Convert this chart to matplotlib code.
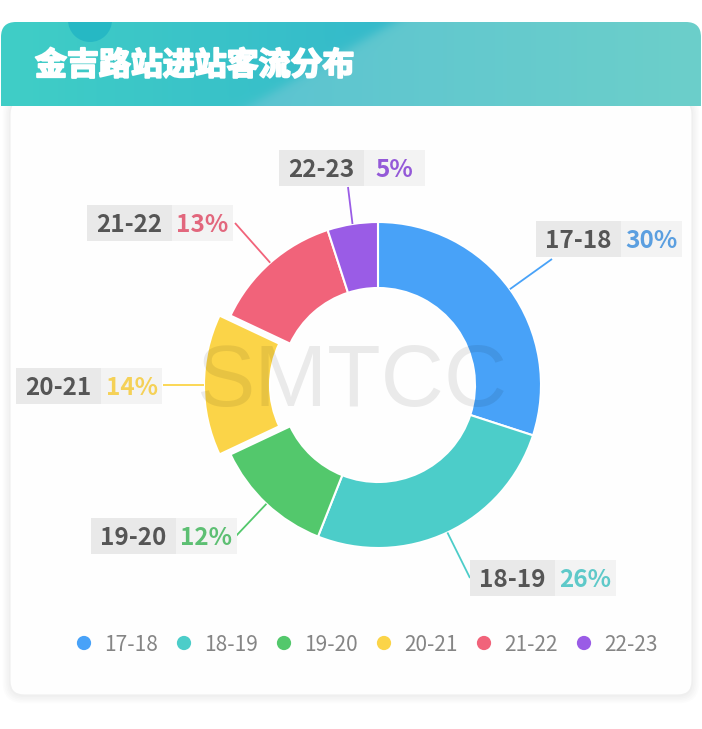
import numpy as np
import matplotlib
matplotlib.use("Agg")
import matplotlib.pyplot as plt
import matplotlib.patheffects as pe
from matplotlib.patches import FancyBboxPatch, Rectangle, Circle
from matplotlib.colors import to_rgb

plt.rcParams["font.family"] = ["Noto Sans CJK SC", "DejaVu Sans"]

TITLE = "金吉路站进站客流分布"
PERIODS = ["17-18", "18-19", "19-20", "20-21", "21-22", "22-23"]
SHARES = [30, 26, 12, 14, 13, 5]
COLORS = ["#48a2f8", "#4ccdc9", "#53c86c", "#fbd448", "#f1637a", "#9a5ce6"]
PCT_COLORS = ["#5b9fe0", "#5ec9c9", "#5dbf73", "#f5d157", "#e2677d", "#9459d8"]
EXPLODED = "20-21"

W, H = 702, 729
CX, CY = 378, 385          # donut centre, image pixels from top-left
R_OUT, R_IN = 163, 97

# label box top-left corners and leader line ends (image pixels)
BOX_POS = [(536, 221), (470, 560), (91, 518), (16, 368), (87, 205), (279, 150)]
LEADER_END = [(552, 259), (470, 578), (236, 536), (163, 385), (235, 223), (348, 187)]


def fy(y):
    return H - y


fig = plt.figure(figsize=(W / 100, H / 100), dpi=100, facecolor="white")
ax = fig.add_axes([0, 0, 1, 1])

# card shadow + body
for i in range(5):
    pad = 1 + i * 1.6
    ax.add_patch(FancyBboxPatch((10 - pad, fy(695) - pad - 1), 682 + 2 * pad, 595 + 2 * pad,
                                boxstyle="round,pad=0,rounding_size=%d" % (14 + pad),
                                fc="black", ec="none", alpha=0.01, zorder=0.1))
ax.add_patch(FancyBboxPatch((10, fy(695)), 682, 595, boxstyle="round,pad=0,rounding_size=14",
                            fc="#fefefe", ec="#efefef", lw=0.8, zorder=0.3))

# header band with gradient
hh = 84
xs = np.linspace(0, W, W)[None, :]
ys = np.linspace(22, 106, hh)[:, None]
left = np.array(to_rgb("#40cec6"))
mid = np.array(to_rgb("#33b8cb"))
light_a = np.array(to_rgb("#5cc4d1"))
light_b = np.array(to_rgb("#6ccfca"))
t = np.clip(xs / 420, 0, 1)[..., None]
base = left * (1 - t) + mid * t
edge = 394 - (ys - 22) * (144 / 84)
s = (1 / (1 + np.exp(-(xs - edge) / 6)))[..., None]
u = np.clip((xs - 250) / 450, 0, 1)[..., None]
light = light_a * (1 - u) + light_b * u
img = base * (1 - s) + light * s
header_clip = FancyBboxPatch((1, fy(140)), 700, 118, boxstyle="round,pad=0,rounding_size=15",
                             transform=ax.transData)
im = ax.imshow(img, extent=(0, W, fy(106), fy(22)), origin="upper", zorder=0.6,
               interpolation="bilinear")
im.set_clip_path(header_clip)
deco = Circle((90, fy(20)), 22, fc="#26b8c4", ec="none", zorder=0.7)
ax.add_patch(deco)
deco.set_clip_path(header_clip)
ax.text(35, fy(66), TITLE, color="white", fontsize=23, fontweight="heavy",
        ha="left", va="center", zorder=1,
        path_effects=[pe.withStroke(linewidth=1.4, foreground="white")])

# donut
explode = [11 if p == EXPLODED else 0 for p in PERIODS]
wedges, _ = ax.pie(SHARES, colors=COLORS, startangle=90, counterclock=False,
                   center=(CX, fy(CY)), radius=R_OUT, explode=explode, frame=True,
                   wedgeprops=dict(width=R_OUT - R_IN, edgecolor="white", linewidth=1.5))
for w in wedges:
    w.set_zorder(2)

total = sum(SHARES)
for i, (w, p, c) in enumerate(zip(wedges, PERIODS, COLORS)):
    ang = np.deg2rad((w.theta1 + w.theta2) / 2)
    x0 = w.center[0] + w.r * np.cos(ang)
    y0 = w.center[1] + w.r * np.sin(ang)
    ex, ey = LEADER_END[i]
    ax.plot([x0, ex], [y0, fy(ey)], color=c, lw=1.3, zorder=3, solid_capstyle="butt")
    bx, by = BOX_POS[i]
    ax.add_patch(Rectangle((bx, fy(by + 36)), 85, 36, fc="#e9e9e9", ec="none", zorder=4))
    ax.add_patch(Rectangle((bx + 85, fy(by + 36)), 61, 36, fc="#f3f3f3", ec="none", zorder=4))
    ax.text(bx + 42.5, fy(by + 20), p, fontsize=17.5, fontweight="bold", color="#555555",
            ha="center", va="center", zorder=5)
    pct = round(SHARES[i] / total * 100)
    ax.text(bx + 85 + 30.5, fy(by + 20), f"{pct}%", fontsize=17.5, fontweight="bold",
            color=PCT_COLORS[i], ha="center", va="center", zorder=5)

# watermark
ax.text(352, fy(383), "SMTCC", fontsize=63, family="Liberation Sans", color="black",
        alpha=0.08, ha="center", va="center", zorder=6)

# legend
for i, (p, c) in enumerate(zip(PERIODS, COLORS)):
    lx = 84 + i * 100
    ax.scatter([lx], [fy(643)], s=105, color=c, edgecolors="none", zorder=3)
    ax.text(lx + 20, fy(645), p, fontsize=15, color="#858585", ha="left", va="center", zorder=3)

ax.set_xlim(0, W)
ax.set_ylim(0, H)
ax.set_aspect("auto")
ax.axis("off")
fig.savefig("out.png", dpi=100, facecolor="white")
